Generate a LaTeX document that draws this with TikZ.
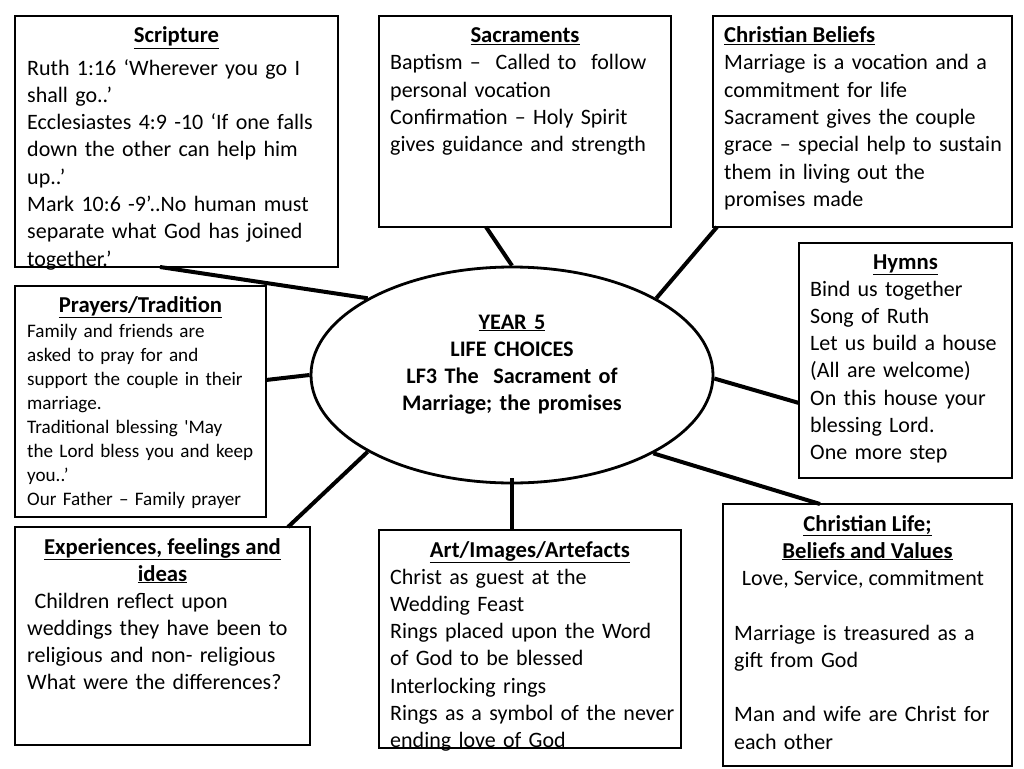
\documentclass[tikz,border=0pt]{standalone}
\usepackage{fontspec}
\setmainfont{Carlito}
\usetikzlibrary{shapes.geometric}
\begin{document}
\begin{tikzpicture}[x=1pt,y=-1pt,
  box/.style={draw=black, line width=2.8pt, fill=white, inner sep=0pt, rectangle},
  conn/.style={draw=black, line width=4pt},
  ttl/.style={inner sep=0pt, anchor=base, font=\fontsize{22.7}{27.3}\selectfont\bfseries},
  ttlw/.style={inner sep=0pt, anchor=base west, font=\fontsize{22.7}{27.3}\selectfont\bfseries},
  body/.style={inner sep=0pt, anchor=base west, text width=320pt, align=left, font=\fontsize{22}{27.3}\selectfont},
  smallbody/.style={inner sep=0pt, anchor=base west, text width=320pt, align=left, font=\fontsize{19.1}{24}\selectfont},
]
\useasboundingbox[fill=white] (0,0) rectangle (1024,768);

% boxes
\node[box, minimum width=323pt, minimum height=251pt] (scr) at (176.5,141.5) {};
\node[box, minimum width=292pt, minimum height=211pt] (sac) at (525,121.5) {};
\node[box, minimum width=299pt, minimum height=211pt] (bel) at (862.5,121.5) {};
\node[box, minimum width=213pt, minimum height=235pt] (hym) at (905.5,360.5) {};
\node[box, minimum width=251pt, minimum height=231pt] (pra) at (140.5,401.5) {};
\node[box, minimum width=295pt, minimum height=218pt] (exp) at (162.5,636) {};
\node[box, minimum width=302pt, minimum height=218pt] (art) at (530,639) {};
\node[box, minimum width=289pt, minimum height=262pt] (life) at (867.5,635) {};
\node[draw=black, line width=2.8pt, fill=white, ellipse, inner sep=0pt,
      minimum width=402pt, minimum height=216pt] (ell) at (512,375) {};

% connector end points on the boxes
\coordinate (cscr) at (160,267);
\coordinate (csac) at (486,227);
\coordinate (cbel) at (717,227);
\coordinate (chym) at (799,403);
\coordinate (cpra) at (266,380);
\coordinate (cexp) at (288,527);
\coordinate (cart) at (512,530);
\coordinate (clife) at (820,504);

\draw[conn] (cscr) -- (ell.152);
\draw[conn] (csac) -- (ell.north);
\draw[conn] (cbel) -- (ell.28);
\draw[conn] (ell.-1) -- (chym);
\draw[conn] (cpra) -- (ell.west);
\draw[conn] (cexp) -- (ell.208);
\draw[conn] ([yshift=6pt]ell.south) -- (cart);
\draw[conn] (ell.-29) -- (clife);

% Scripture
\node[ttl] (scrT) at (176.5,43) {\underline{Scripture}};
\node[body] (scrB) at (27,75) {Ruth 1:16 ‘Wherever you go I\\
shall go..’\\
Ecclesiastes 4:9 -10 ‘If one falls\\
down the other can help him\\
up..’\\
Mark 10:6 -9’..No human must\\
separate what God has joined\\
together.’};

% Sacraments
\node[ttl] (sacT) at (525,43) {\underline{Sacraments}};
\node[body] (sacB) at (390,70) {Baptism –\ \ Called to\ \ follow\\
personal vocation\\
Confirmation – Holy Spirit\\
gives guidance and strength};

% Christian Beliefs
\node[ttlw] (belT) at (724,43) {\underline{Christian Beliefs}};
\node[body] (belB) at (724,70) {Marriage is a vocation and a\\
commitment for life\\
Sacrament gives the couple\\
grace – special help to sustain\\
them in living out the\\
promises made};

% Hymns
\node[ttl] (hymT) at (905.5,269) {\underline{Hymns}};
\node[body] (hymB) at (810,296) {Bind us together\\
Song of Ruth\\
Let us build a house\\
(All are welcome)\\
On this house your\\
blessing Lord.\\
One more step};

% Prayers/Tradition
\node[ttl] (praT) at (140.5,312) {\underline{Prayers/Tradition}};
\node[smallbody] (praB) at (27,337) {Family and friends are\\
asked to pray for and\\
support the couple in their\\
marriage.\\
Traditional blessing \textquotesingle May\\
the Lord bless you and keep\\
you..’\\
Our Father – Family prayer};

% Experiences
\node[ttl] (expT1) at (162.5,554) {\underline{Experiences, feelings and}};
\node[ttl] (expT2) at (162.5,581) {\underline{ideas}};
\node[body] (expB) at (27,608) {\ Children reflect upon\\
weddings they have been to\\
religious and non- religious\\
What were the differences?};

% Art
\node[ttl] (artT) at (530,557) {\underline{Art/Images/Artefacts}};
\node[body] (artB) at (390,584) {Christ as guest at the\\
Wedding Feast\\
Rings placed upon the Word\\
of God to be blessed\\
Interlocking rings\\
Rings as a symbol of the never\\
ending love of God};

% Christian Life
\node[ttl] (lifeT1) at (867.5,531) {\underline{Christian Life;}};
\node[ttl] (lifeT2) at (867.5,558) {\underline{Beliefs and Values}};
\node[inner sep=0pt, anchor=base, font=\fontsize{22}{27.3}\selectfont] (lifeV) at (863,585) {Love, Service, commitment};
\node[body] (lifeB) at (734,640) {Marriage is treasured as a\\
gift from God\\[27.3pt]
Man and wife are Christ for\\
each other};

% centre
\node[inner sep=0pt, anchor=base, text width=380pt, align=center,
      font=\fontsize{22.2}{27.3}\selectfont\bfseries] (ellT) at (512,329)
  {\underline{YEAR 5}\\ LIFE CHOICES\\ LF3 The\ \ Sacrament of\\ Marriage; the promises};
\end{tikzpicture}
\end{document}
